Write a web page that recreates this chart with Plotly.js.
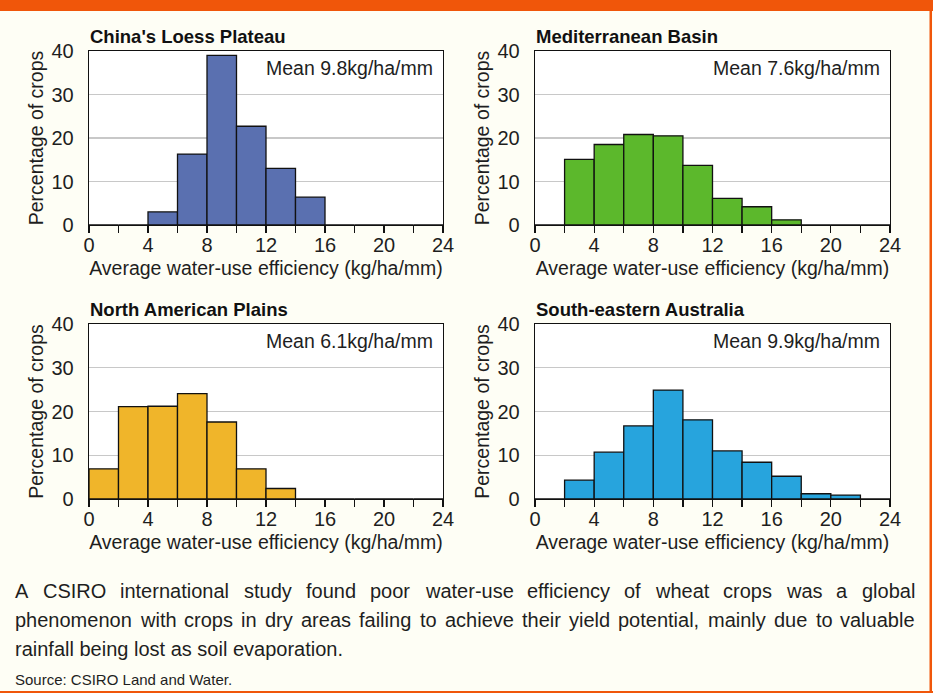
<!DOCTYPE html>
<html>
<head>
<meta charset="utf-8">
<script src="https://cdn.plot.ly/plotly-3.0.1.min.js"></script>
<style>
  html, body { margin: 0; padding: 0; background: #fefef5; }
  #chart { width: 933px; height: 693px; }
</style>
</head>
<body>
<div id="chart"></div>
<script>
// ---- Data (bins of 2 kg/ha/mm; value = % of crops) ----
const binCenters = [1, 3, 5, 7, 9, 11, 13, 15, 17, 19, 21, 23];
const chinaLoess   = [0, 0, 3.0, 16.3, 39.0, 22.7, 13.0, 6.4, 0, 0, 0, 0];
const mediterranean = [0, 15.1, 18.5, 20.8, 20.5, 13.7, 6.1, 4.2, 1.2, 0, 0, 0];
const northAmerican = [6.9, 21.1, 21.2, 24.1, 17.6, 6.9, 2.4, 0, 0, 0, 0, 0];
const seAustralia   = [0, 4.3, 10.7, 16.7, 24.9, 18.1, 11.0, 8.4, 5.2, 1.2, 0.9, 0];
const regionNames = ["China's Loess Plateau", "Mediterranean Basin", "North American Plains", "South-eastern Australia"];
const meanLabels = ["Mean 9.8kg/ha/mm", "Mean 7.6kg/ha/mm", "Mean 6.1kg/ha/mm", "Mean 9.9kg/ha/mm"];
const barColors = ["#5a70b0", "#5cb82c", "#f0b52a", "#27a4dd"];
const xTickVals = [0, 2, 4, 6, 8, 10, 12, 14, 16, 18, 20, 22, 24];
const xTickText = ["0", "", "4", "", "8", "", "12", "", "16", "", "20", "", "24"];
const yTickVals = [0, 10, 20, 30, 40];
const xTitle = "Average water-use efficiency (kg/ha/mm)";
const yTitle = "Percentage of crops";
const captionLines = [
  "A CSIRO international study found poor water-use efficiency of wheat crops was a global",
  "phenomenon with crops in dry areas failing to achieve their yield potential, mainly due to valuable",
  "rainfall being lost as soil evaporation."
];
const sourceText = "Source: CSIRO Land and Water.";

// ---- Layout helpers ----
const W = 933, H = 693;
const FONT = "'Liberation Sans', Arial, Helvetica, sans-serif";
const TXT = "#1e1e1e";
const px = x => x / W;
const py = y => 1 - y / H;

// plot boxes in pixels [left, right, top, bottom]
const boxes = [
  [89, 443, 51, 225],
  [535, 890, 51, 225],
  [89, 443, 324, 499],
  [535, 890, 324, 499]
];
const series = [chinaLoess, mediterranean, northAmerican, seAustralia];

const data = [];
const layout = {
  width: W, height: H,
  margin: {l: 0, r: 0, t: 0, b: 0},
  paper_bgcolor: "#fefef5",
  plot_bgcolor: "#ffffff",
  showlegend: false,
  bargap: 0,
  font: {family: FONT, color: TXT},
  annotations: [],
  shapes: []
};

boxes.forEach((b, i) => {
  const n = i === 0 ? "" : String(i + 1);
  const xa = "x" + n, ya = "y" + n;
  data.push({
    type: "bar",
    x: binCenters,
    y: series[i],
    width: 2,
    xaxis: xa, yaxis: ya,
    marker: {color: barColors[i], line: {color: "#111111", width: 1.3}},
    hoverinfo: "x+y"
  });
  layout["xaxis" + n] = {
    domain: [px(b[0]), px(b[1])],
    anchor: ya,
    range: [0, 24],
    tickvals: xTickVals, ticktext: xTickText,
    ticks: "outside", ticklen: 7, tickwidth: 1.3, tickcolor: "#111",
    ticklabelstandoff: -5,
    showgrid: false, zeroline: false,
    showline: true, linecolor: "#111", linewidth: 1.3, mirror: true,
    tickfont: {size: 20, family: FONT, color: TXT},
    title: {text: xTitle, font: {size: 19.5, family: FONT, color: TXT}, standoff: 6},
    fixedrange: true
  };
  layout["yaxis" + n] = {
    domain: [py(b[3]), py(b[2])],
    anchor: xa,
    range: [0, 40],
    tickvals: yTickVals,
    ticks: "outside", ticklen: 10, tickcolor: "rgba(0,0,0,0)",
    showgrid: true, gridcolor: "#c8c8c8", gridwidth: 1.2,
    zeroline: false,
    showline: true, linecolor: "#111", linewidth: 1.3, mirror: true,
    tickfont: {size: 20, family: FONT, color: TXT},
    title: {text: yTitle, font: {size: 19.5, family: FONT, color: TXT}, standoff: 2},
    fixedrange: true
  };
  layout.annotations.push({
    xref: "paper", yref: "paper",
    x: px(b[0] - 1), y: py(b[2] - 15),
    xanchor: "left", yanchor: "middle",
    text: "<b>" + regionNames[i] + "</b>",
    showarrow: false,
    font: {size: 18.5, family: FONT, color: "#111"}
  });
  layout.annotations.push({
    xref: "paper", yref: "paper",
    x: px(b[1] - 8), y: py(b[2] + 17),
    xanchor: "right", yanchor: "middle",
    text: meanLabels[i],
    showarrow: false,
    font: {size: 19.5, family: FONT, color: TXT}
  });
});

// ---- Caption (justified by word placement) ----
const capSize = 20;
const capLeft = 13, capRight = 913;
const capY = [591, 620, 649];
const cvs = document.createElement("canvas");
const ctx = cvs.getContext("2d");
ctx.font = capSize + "px " + FONT;
captionLines.forEach((line, li) => {
  if (li === captionLines.length - 1) {
    layout.annotations.push({
      xref: "paper", yref: "paper", x: px(capLeft), y: py(capY[li]),
      xanchor: "left", yanchor: "middle", text: line, showarrow: false,
      font: {size: capSize, family: FONT, color: TXT}
    });
    return;
  }
  const words = line.split(" ");
  const widths = words.map(w => ctx.measureText(w).width);
  const total = widths.reduce((a, c) => a + c, 0);
  const gap = (capRight - capLeft - total) / (words.length - 1);
  let cx = capLeft;
  words.forEach((w, wi) => {
    layout.annotations.push({
      xref: "paper", yref: "paper", x: px(cx), y: py(capY[li]),
      xanchor: "left", yanchor: "middle", text: w, showarrow: false,
      font: {size: capSize, family: FONT, color: TXT}
    });
    cx += widths[wi] + gap;
  });
});
layout.annotations.push({
  xref: "paper", yref: "paper", x: px(capLeft), y: py(679),
  xanchor: "left", yanchor: "middle", text: sourceText, showarrow: false,
  font: {size: 15, family: FONT, color: TXT}
});

// ---- Orange frame ----
const orange = "#f0560a";
layout.shapes.push(
  {type: "rect", xref: "paper", yref: "paper", x0: 0, x1: 1, y0: py(11), y1: 1, fillcolor: orange, line: {width: 0}, layer: "below"},
  {type: "rect", xref: "paper", yref: "paper", x0: px(929.5), x1: px(932), y0: 0, y1: 1, fillcolor: orange, line: {width: 0}, layer: "below"},
  {type: "rect", xref: "paper", yref: "paper", x0: 0, x1: 1, y0: 0, y1: py(691), fillcolor: orange, line: {width: 0}, layer: "below"}
);

Plotly.newPlot("chart", data, layout, {displayModeBar: false, staticPlot: true});
</script>
</body>
</html>
